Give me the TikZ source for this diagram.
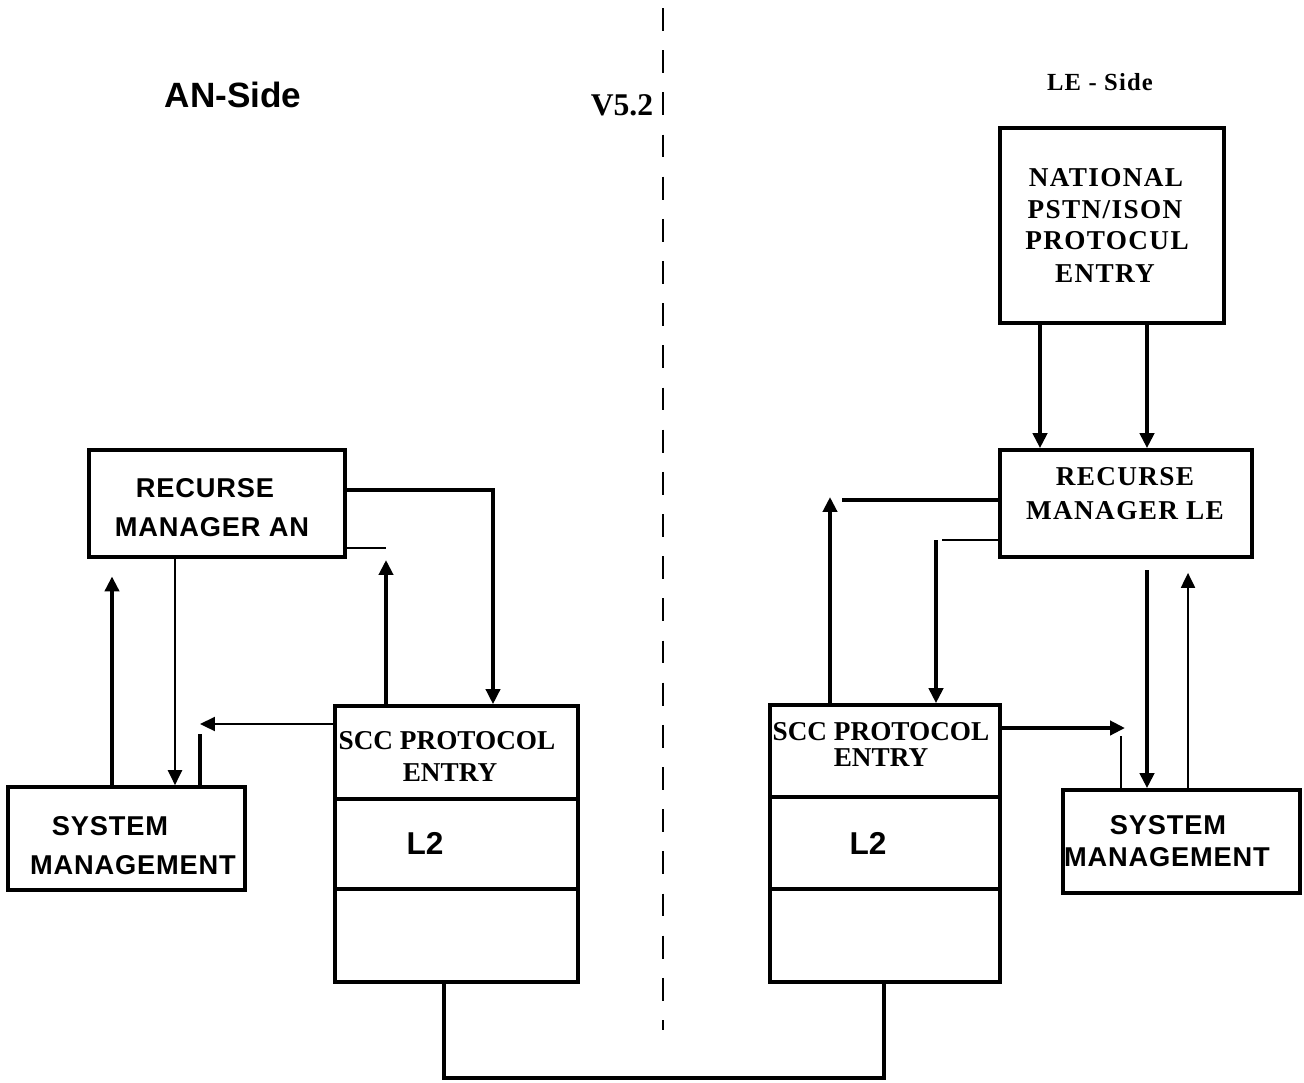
\documentclass[tikz,border=0pt]{standalone}
\usepackage{fontspec}
\setmainfont{Liberation Serif}
\setsansfont{Liberation Sans}
\newfontfamily\serifsp[LetterSpace=5]{Liberation Serif}
\newfontfamily\sanssp[LetterSpace=3]{Liberation Sans}
\usetikzlibrary{arrows.meta,fit}
\begin{document}
\begin{tikzpicture}[x=0.02cm,y=-0.02cm,
  box/.style={draw, line width=2.1pt, inner sep=0pt, fit={#1}},
  sflab/.style={font=\sanssp\bfseries\fontsize{15.5}{18}\selectfont, inner sep=0pt},
  rmlab/.style={font=\serifsp\bfseries\fontsize{15.5}{18}\selectfont, inner sep=0pt},
  scclab/.style={font=\rmfamily\bfseries\fontsize{15.5}{18}\selectfont, inner sep=0pt},
  tip/.style={-{Triangle[length=8.5pt,width=8pt]}},
  heavy/.style={line width=2.8pt},
  medium/.style={line width=1.9pt},
  light/.style={line width=1pt},
  sep/.style={line width=1.1pt, dash pattern=on 13pt off 11pt}
]
\useasboundingbox (0,0) rectangle (1304,1082);

% ---------- boxes ----------
\node[box={(89,450)(345,557)}] (rman) {};
\node[box={(8,787)(245,890)}] (sm1) {};
\node[box={(335,706)(578,982)}] (scc1) {};
\node[box={(770,705)(1000,982)}] (scc2) {};
\node[box={(1000,450)(1252,557)}] (rmle) {};
\node[box={(1000,128)(1224,323)}] (nat) {};
\node[box={(1063,790)(1300,893)}] (sm2) {};

% dividers
\draw[line width=2.1pt] (scc1.west |- 0,799) -- (scc1.east |- 0,799);
\draw[line width=2.1pt] (scc1.west |- 0,889) -- (scc1.east |- 0,889);
\draw[line width=2.1pt] (scc2.west |- 0,797) -- (scc2.east |- 0,797);
\draw[line width=2.1pt] (scc2.west |- 0,889) -- (scc2.east |- 0,889);

% ---------- texts ----------
\node[font=\sffamily\bfseries\fontsize{20}{24}\selectfont, inner sep=0pt] (anside) at (233,95) {AN-Side};
\node[font=\serifsp\bfseries\fontsize{14}{16}\selectfont, inner sep=0pt] (leside) at (1100,82) {LE - Side};
\node[font=\rmfamily\bfseries\fontsize{18}{22}\selectfont, inner sep=0pt] (v52) at (622,105) {V5.2};

\node[sflab] (rmanA) at (205,488) {RECURSE};
\node[sflab] (rmanB) at (212,527) {MANAGER AN};
\node[sflab] (sm1A) at (110,826) {SYSTEM};
\node[sflab] (sm1B) at (133,865) {MANAGEMENT};
\node[scclab] (scc1A) at (447,741) {SCC PROTOCOL};
\node[scclab] (scc1B) at (450,773) {ENTRY};
\node[sflab, font=\sffamily\bfseries\fontsize{18}{20}\selectfont] (l2a) at (425,843) {L2};

\node[scclab] (scc2A) at (881,732) {SCC PROTOCOL};
\node[scclab] (scc2B) at (881,758) {ENTRY};
\node[sflab, font=\sffamily\bfseries\fontsize{18}{20}\selectfont] (l2b) at (868,843) {L2};

\node[rmlab] (rmleA) at (1125,477) {RECURSE};
\node[rmlab] (rmleB) at (1125,511) {MANAGER LE};
\node[rmlab] (natA) at (1106,178) {NATIONAL};
\node[rmlab] (natB) at (1105,210) {PSTN/ISON};
\node[rmlab] (natC) at (1107,241) {PROTOCUL};
\node[rmlab] (natD) at (1105,274) {ENTRY};
\node[sflab] (sm2A) at (1168,825) {SYSTEM};
\node[sflab] (sm2B) at (1167,857) {MANAGEMENT};

% ---------- separator ----------
\coordinate (septop) at (663,8);
\coordinate (sepbot) at (663,1030);
\draw[sep] (septop) -- (sepbot);

% ---------- left connectors ----------
\draw[medium,tip] (rman.east |- 0,490) -| (493,0 |- scc1.north);
\coordinate (la) at (386,560);
\draw[heavy,tip] (386,0 |- scc1.north) -- (la);
\draw[light] (rman.east |- 0,548) -- (386,548);
\coordinate (lb) at (200,724);
\draw[light,tip] (scc1.west |- 0,724) -- (lb);
\draw[medium] (200,0 |- sm1.north) -- (200,734);
\draw[light,tip] (175,0 |- rman.south) -- (175,0 |- sm1.north);
\draw[heavy,tip,shorten >=10pt] (112,0 |- sm1.north) -- (112,0 |- rman.south);

% ---------- right connectors ----------
\draw[heavy,tip] (1040,0 |- nat.south) -- (1040,0 |- rmle.north);
\draw[heavy,tip] (1147,0 |- nat.south) -- (1147,0 |- rmle.north);
\coordinate (ra) at (830,497);
\draw[heavy,tip] (830,0 |- scc2.north) -- (ra);
\draw[medium] (rmle.west |- 0,500) -- (842,500);
\draw[light] (rmle.west |- 0,540) -- (942,540);
\draw[heavy,tip] (936,540) -- (936,0 |- scc2.north);
\draw[heavy,tip] (1147,570) -- (1147,0 |- sm2.north);
\draw[light,tip,shorten >=8pt] (1188,0 |- sm2.north) -- (1188,0 |- rmle.south);
\coordinate (rb) at (1125,728);
\draw[heavy,tip] (scc2.east |- 0,728) -- (rb);
\draw[light] (1121,0 |- sm2.north) -- (1121,736);

% ---------- bottom link ----------
\draw[medium] (444,0 |- scc1.south) -- (444,1078) -| (884,0 |- scc2.south);
\end{tikzpicture}
\end{document}
